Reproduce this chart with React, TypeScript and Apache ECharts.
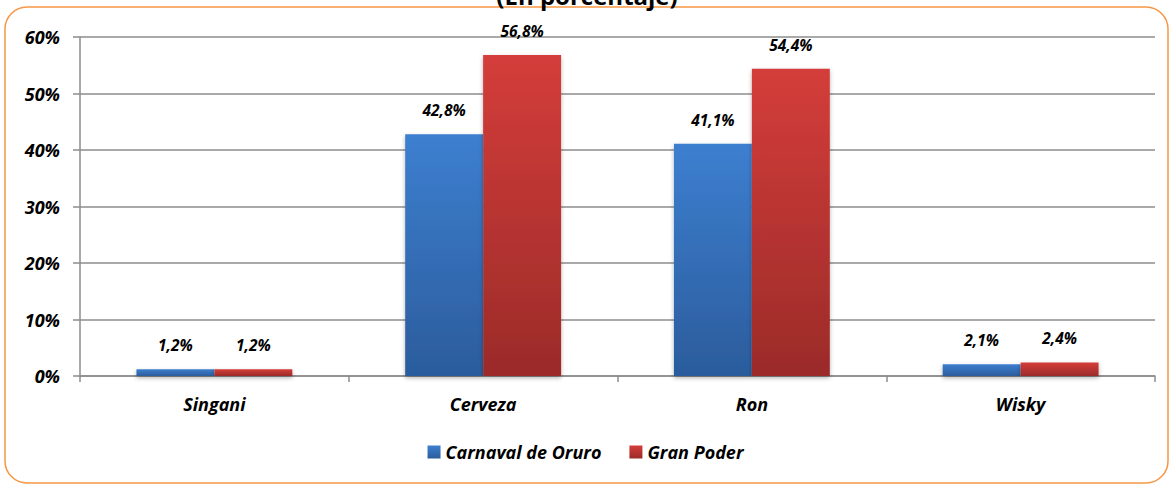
import React, { useEffect, useRef } from "react";
import * as echarts from "echarts";

const categories = ["Singani", "Cerveza", "Ron", "Wisky"];
const carnavalOruro = [1.2, 42.8, 41.1, 2.1];
const granPoder = [1.2, 56.8, 54.4, 2.4];
const seriesNames = ["Carnaval de Oruro", "Gran Poder"];
const titleText = "(En porcentaje)";

const FONT = "'Open Sans', sans-serif";

export default function App() {
  const ref = useRef<HTMLDivElement>(null);
  useEffect(() => {
    if (!ref.current) return;
    const chart = echarts.init(ref.current, null, { renderer: "svg" });
    const labelStyle = {
      show: true,
      position: "top" as const,
      distance: 16,
      fontFamily: FONT,
      fontStyle: "italic" as const,
      fontWeight: "bold" as const,
      fontSize: 15.5,
      color: "#000",
      formatter: (p: any) => p.value.toFixed(1).replace(".", ",") + "%",
    };
    const blue = new echarts.graphic.LinearGradient(0, 0, 0, 1, [
      { offset: 0, color: "#3d7fd0" },
      { offset: 1, color: "#2b5c9c" },
    ]);
    const red = new echarts.graphic.LinearGradient(0, 0, 0, 1, [
      { offset: 0, color: "#d43d3a" },
      { offset: 1, color: "#9b2b29" },
    ]);
    chart.setOption({
      animation: false,
      backgroundColor: "#fff",
      graphic: [
        {
          type: "rect",
          shape: { x: 5, y: 7, width: 1163, height: 476, r: 22 },
          style: { fill: "none", stroke: "#f79646", lineWidth: 1.5 },
          z: 0,
        },
        {
          type: "text",
          x: 587,
          y: -17,
          style: {
            text: titleText,
            fontFamily: FONT,
            fontWeight: "bold",
            fontSize: 24,
            fill: "#000",
            align: "center",
            verticalAlign: "top",
          },
        },
      ],
      legend: {
        data: seriesNames,
        bottom: 18,
        left: "center",
        itemWidth: 13,
        itemHeight: 13,
        itemGap: 28,
        itemStyle: { borderWidth: 0 },
        icon: "rect",
        textStyle: {
          fontFamily: FONT,
          fontStyle: "italic",
          fontWeight: "bold",
          fontSize: 18,
          color: "#000",
        },
      },
      grid: { left: 80, right: 16, top: 37, bottom: 108 },
      xAxis: {
        type: "category",
        data: categories,
        axisLine: { lineStyle: { color: "#8c8c8c", width: 1.5 } },
        axisTick: { show: true, length: 6, lineStyle: { color: "#8c8c8c", width: 1.5 } },
        axisLabel: {
          margin: 19,
          fontFamily: FONT,
          fontStyle: "italic",
          fontWeight: "bold",
          fontSize: 18,
          color: "#000",
        },
      },
      yAxis: {
        type: "value",
        min: 0,
        max: 60,
        interval: 10,
        axisLine: { show: true, lineStyle: { color: "#8c8c8c", width: 1.5 } },
        axisTick: { show: true, length: 7, lineStyle: { color: "#8c8c8c", width: 1.5 } },
        splitLine: { lineStyle: { color: "#8c8c8c", width: 1.5 } },
        axisLabel: {
          margin: 20,
          formatter: "{value}%",
          fontFamily: FONT,
          fontStyle: "italic",
          fontWeight: "bold",
          fontSize: 18,
          color: "#000",
        },
      },
      series: [
        {
          name: seriesNames[0],
          type: "bar",
          data: carnavalOruro,
          barGap: "0%",
          barCategoryGap: "42%",
          itemStyle: { color: blue, shadowColor: "rgba(0,0,0,0.3)", shadowBlur: 4, shadowOffsetY: 2 },
          label: labelStyle,
        },
        {
          name: seriesNames[1],
          type: "bar",
          data: granPoder,
          barGap: "0%",
          barCategoryGap: "42%",
          itemStyle: { color: red, shadowColor: "rgba(0,0,0,0.3)", shadowBlur: 4, shadowOffsetY: 2 },
          label: labelStyle,
        },
      ],
    });
    return () => chart.dispose();
  }, []);
  return (
    <div
      ref={ref}
      style={{ position: "fixed", left: 0, top: 0, width: 1171, height: 484 }}
    />
  );
}
